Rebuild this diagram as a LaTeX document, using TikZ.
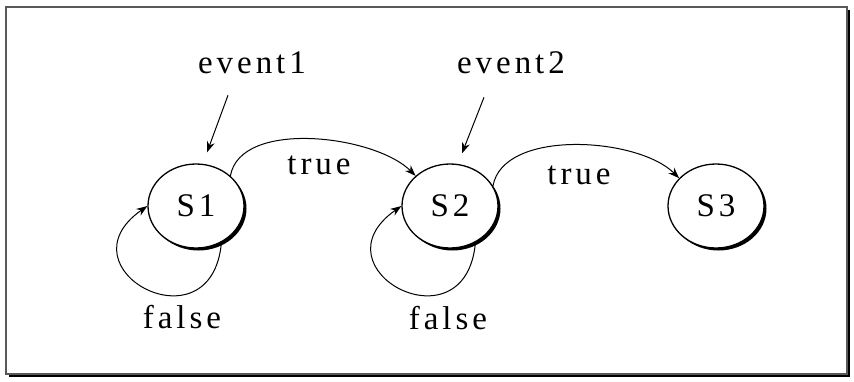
\documentclass[tikz,border=0pt]{standalone}
\usepackage{fontspec}
\setmainfont{Liberation Serif}[LetterSpace=12]
\usepackage{tikz}
\usetikzlibrary{shapes.geometric, arrows.meta, shadows}

\begin{document}
\begin{tikzpicture}[x=1pt, y=-1pt,
      font=\fontsize{33}{40}\selectfont,
      st/.style={ellipse, draw, line width=1.3pt, fill=white, inner sep=0pt,
        minimum width=96pt, minimum height=84pt,
        drop shadow={shadow xshift=2.5pt, shadow yshift=-2.5pt, fill=black, opacity=1}},
      lbl/.style={inner sep=0pt},
      tr/.style={line width=1pt, -{Stealth[length=11pt, width=8pt]}}
    ]
    \useasboundingbox (0,0) rectangle (854,381);
    % frame
    \draw[black!65, line width=1.5pt, fill=white,
      drop shadow={shadow xshift=2.5pt, shadow yshift=-2.5pt, fill=black, opacity=1}]
      (6,7) rectangle (847,374);

    \node[st] (s1) at (196,206) {S1};
    \node[st] (s2) at (450,206) {S2};
    \node[st] (s3) at (716,206) {S3};

    \node[lbl] (ev1) at (252,63) {event1};
    \node[lbl] (ev2) at (511,63) {event2};
    \node[lbl] (t1) at (319,165) {true};
    \node[lbl] (t2) at (579,175) {true};
    \node[lbl] (f1) at (182,317) {false};
    \node[lbl] (f2) at (448,318) {false};

    \draw[tr] ([xshift=-24pt, yshift=-21pt]ev1.south) -- ([xshift=11pt, yshift=11pt]s1.north);
    \draw[tr] ([xshift=-27pt, yshift=-23pt]ev2.south) -- ([xshift=12pt, yshift=10pt]s2.north);

    \draw[tr] (s1.north east) to[out=80, in=135, looseness=0.8] (s2.north west);
    \draw[tr] (s2.25) to[out=80, in=135, looseness=0.8] (s3.143);

    \draw[tr] (s1.-55) to[out=-95, in=215, looseness=3.4] (s1.west);
    \draw[tr] (s2.-55) to[out=-95, in=215, looseness=3.4] (s2.west);
  \end{tikzpicture}
\end{document}
